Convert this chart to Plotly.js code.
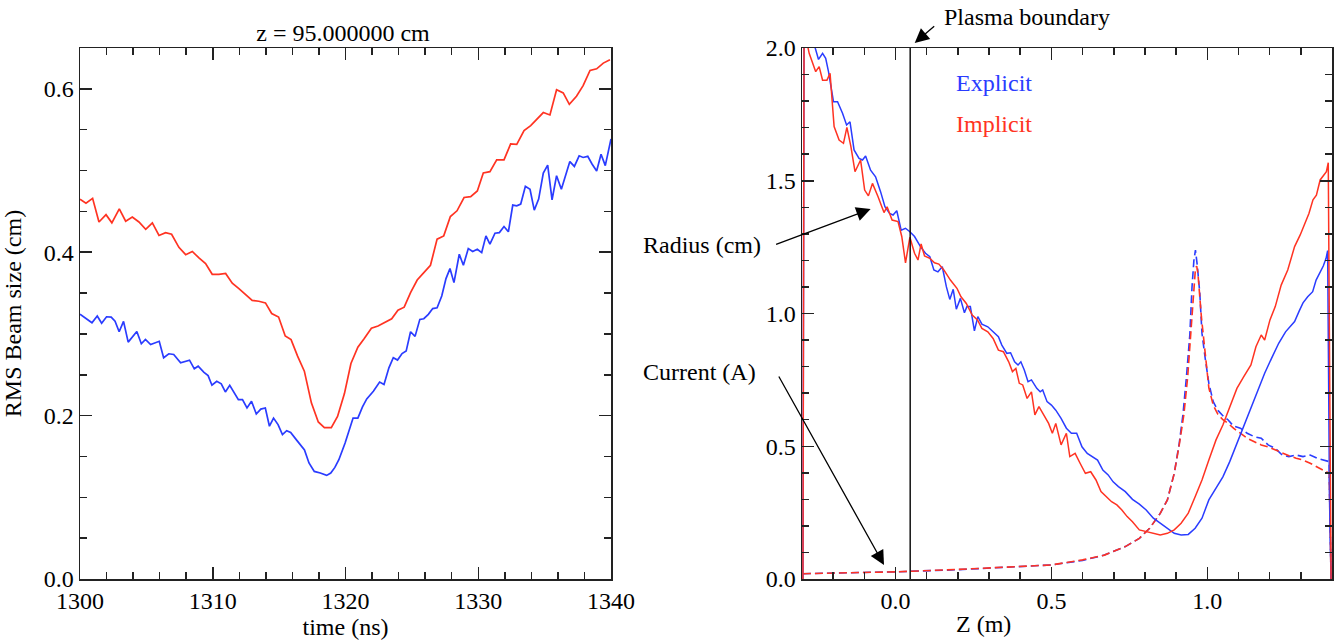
<!DOCTYPE html>
<html>
<head>
<meta charset="utf-8">
<script src="https://cdn.plot.ly/plotly-3.0.1.min.js"></script>
<style>html,body{margin:0;padding:0;background:#fff;}#chart{width:1338px;height:643px;}</style>
</head>
<body>
<div id="chart"></div>
<script>
// ---------- Left panel: RMS beam size vs time at z = 95 cm ----------
const timeImplicit = [1300.0,1300.45,1300.95,1301.43,1301.96,1302.4,1302.96,1303.44,1303.94,1304.44,1304.95,1305.45,1305.95,1306.45,1306.9,1307.45,1307.96,1308.46,1308.96,1309.46,1309.96,1310.46,1310.97,1311.47,1311.97,1312.47,1312.97,1313.47,1313.97,1314.44,1314.96,1315.46,1315.9,1316.39,1316.9,1317.43,1317.95,1318.41,1318.93,1319.4,1319.92,1320.41,1320.93,1321.4,1321.95,1322.45,1322.97,1323.48,1323.95,1324.42,1324.9,1325.4,1325.9,1326.4,1326.9,1327.4,1327.9,1328.4,1328.93,1329.43,1329.93,1330.38,1330.88,1331.39,1331.94,1332.44,1332.9,1333.45,1333.95,1334.45,1334.9,1335.4,1335.9,1336.4,1336.86,1337.4,1337.9,1338.42,1338.92,1339.42,1339.92];
const rmsImplicit = [0.465,0.460,0.466,0.437,0.446,0.436,0.453,0.438,0.443,0.437,0.428,0.436,0.4205,0.424,0.422,0.406,0.397,0.401,0.393,0.386,0.373,0.373,0.374,0.362,0.3555,0.3485,0.341,0.340,0.338,0.325,0.3206,0.2975,0.293,0.2728,0.2544,0.2156,0.1922,0.1853,0.1853,0.199,0.227,0.2638,0.2838,0.294,0.307,0.3096,0.3145,0.3186,0.329,0.3327,0.3505,0.366,0.375,0.384,0.416,0.420,0.4437,0.4507,0.467,0.468,0.475,0.497,0.4986,0.513,0.513,0.5325,0.532,0.549,0.555,0.564,0.571,0.568,0.599,0.595,0.581,0.591,0.604,0.6225,0.6245,0.6315,0.6356];

const timeExplicit = [1300.0,1300.5,1300.9,1301.3,1301.63,1302.0,1302.35,1302.64,1302.95,1303.28,1303.63,1304.28,1304.62,1304.93,1305.32,1305.97,1306.3,1306.69,1307.06,1307.58,1308.25,1308.61,1308.9,1309.34,1309.65,1309.94,1310.3,1310.64,1310.95,1311.28,1311.62,1311.93,1312.24,1312.58,1312.92,1313.28,1313.62,1313.96,1314.27,1314.58,1314.92,1315.25,1315.57,1315.87,1316.29,1316.91,1317.25,1317.65,1318.1,1318.58,1318.89,1319.2,1319.5,1319.97,1320.57,1320.93,1321.28,1321.6,1322.1,1322.57,1322.9,1323.27,1323.6,1323.92,1324.26,1324.57,1324.9,1325.24,1325.6,1325.9,1326.24,1326.57,1326.9,1327.25,1327.57,1327.87,1328.17,1328.57,1328.88,1329.25,1329.58,1329.93,1330.26,1330.58,1330.88,1331.26,1331.59,1331.94,1332.27,1332.6,1332.9,1333.2,1333.55,1333.9,1334.22,1334.55,1334.9,1335.23,1335.56,1335.9,1336.26,1336.58,1336.9,1337.24,1337.6,1337.9,1338.25,1338.57,1338.92,1339.25,1339.57,1340.0];
const rmsExplicit = [0.324,0.318,0.3137,0.322,0.313,0.321,0.3206,0.3157,0.3027,0.3153,0.290,0.303,0.288,0.2933,0.287,0.291,0.2708,0.2757,0.2748,0.2646,0.2679,0.2573,0.2605,0.253,0.249,0.2372,0.242,0.239,0.229,0.2372,0.228,0.2196,0.2196,0.2094,0.2176,0.202,0.208,0.2094,0.187,0.197,0.189,0.1767,0.1816,0.1795,0.1706,0.158,0.142,0.1317,0.1297,0.1268,0.1297,0.1366,0.146,0.1665,0.197,0.197,0.2107,0.2205,0.2298,0.241,0.238,0.2585,0.2708,0.268,0.276,0.279,0.3027,0.297,0.3178,0.3186,0.324,0.331,0.332,0.3464,0.3677,0.380,0.3628,0.3975,0.384,0.4045,0.401,0.4037,0.3996,0.420,0.4098,0.4233,0.424,0.4315,0.425,0.4577,0.4568,0.459,0.4806,0.477,0.4515,0.465,0.497,0.5067,0.4642,0.4937,0.477,0.4945,0.511,0.505,0.518,0.516,0.5174,0.508,0.4994,0.520,0.506,0.5387];

// ---------- Right panel: radius and current vs Z ----------
const zRadExplicit = [-0.297,-0.293,-0.265,-0.247,-0.234,-0.224,-0.215,-0.199,-0.186,-0.17,-0.157,-0.146,-0.133,-0.117,-0.106,-0.096,-0.08,-0.064,-0.048,-0.034,-0.019,-0.008,0.004,0.018,0.032,0.046,0.061,0.08,0.096,0.11,0.123,0.136,0.15,0.163,0.174,0.185,0.195,0.208,0.221,0.229,0.24,0.253,0.264,0.277,0.296,0.313,0.33,0.341,0.357,0.369,0.382,0.393,0.402,0.413,0.425,0.436,0.453,0.464,0.472,0.486,0.5,0.514,0.531,0.548,0.564,0.581,0.598,0.615,0.631,0.648,0.665,0.682,0.698,0.715,0.737,0.76,0.782,0.804,0.827,0.849,0.872,0.894,0.916,0.939,0.961,0.983,1.005,1.028,1.05,1.072,1.095,1.117,1.14,1.162,1.184,1.206,1.229,1.251,1.28,1.295,1.307,1.322,1.338,1.349,1.362,1.372,1.381,1.386,1.392,1.397];
const radExplicit = [0,2.3,2.03,1.957,1.98,1.961,1.911,1.798,1.798,1.754,1.71,1.722,1.616,1.584,1.578,1.593,1.54,1.515,1.459,1.402,1.377,1.371,1.387,1.314,1.321,1.308,1.29,1.252,1.227,1.214,1.164,1.157,1.176,1.101,1.053,1.091,1.016,1.057,1.003,1.026,1.026,0.935,0.988,0.96,0.95,0.931,0.913,0.881,0.85,0.852,0.818,0.806,0.818,0.787,0.743,0.75,0.718,0.705,0.712,0.668,0.655,0.636,0.605,0.568,0.549,0.549,0.498,0.473,0.461,0.448,0.41,0.392,0.366,0.348,0.329,0.3,0.282,0.26,0.229,0.21,0.191,0.172,0.166,0.168,0.191,0.229,0.298,0.342,0.385,0.442,0.511,0.58,0.643,0.712,0.775,0.831,0.888,0.931,0.97,1.01,1.04,1.063,1.082,1.126,1.157,1.179,1.208,1.237,0.3,0];

const zRadImplicit = [-0.297,-0.293,-0.284,-0.277,-0.256,-0.245,-0.234,-0.22,-0.21,-0.197,-0.181,-0.167,-0.156,-0.143,-0.13,-0.112,-0.099,-0.087,-0.074,-0.056,-0.037,-0.027,-0.011,0.008,0.02,0.032,0.046,0.061,0.072,0.082,0.093,0.11,0.125,0.139,0.155,0.176,0.197,0.21,0.227,0.246,0.263,0.277,0.296,0.313,0.33,0.346,0.363,0.375,0.386,0.397,0.408,0.422,0.436,0.447,0.46,0.478,0.491,0.503,0.514,0.531,0.548,0.559,0.576,0.592,0.609,0.626,0.643,0.659,0.676,0.693,0.71,0.726,0.743,0.76,0.782,0.804,0.827,0.849,0.872,0.894,0.916,0.939,0.961,0.983,1.005,1.028,1.05,1.072,1.095,1.117,1.14,1.156,1.173,1.184,1.201,1.218,1.237,1.258,1.28,1.298,1.312,1.326,1.339,1.35,1.362,1.373,1.382,1.388,1.393,1.397];
const radImplicit = [0,2.3,2.02,1.98,1.911,1.93,1.879,1.879,1.905,1.704,1.653,1.641,1.701,1.628,1.534,1.578,1.465,1.443,1.49,1.44,1.38,1.402,1.352,1.346,1.29,1.191,1.287,1.227,1.2015,1.262,1.217,1.208,1.191,1.186,1.164,1.126,1.095,1.063,1.038,0.994,0.976,0.944,0.931,0.906,0.862,0.856,0.818,0.781,0.793,0.737,0.731,0.68,0.705,0.618,0.649,0.611,0.586,0.549,0.586,0.505,0.549,0.461,0.473,0.436,0.398,0.404,0.373,0.329,0.31,0.291,0.279,0.26,0.235,0.216,0.185,0.178,0.172,0.166,0.172,0.185,0.21,0.248,0.31,0.373,0.448,0.524,0.58,0.649,0.718,0.762,0.806,0.875,0.919,0.9,0.976,1.026,1.107,1.164,1.252,1.296,1.34,1.377,1.428,1.446,1.503,1.522,1.534,1.568,0.4,0];

const zCurExplicit = [-0.297,0.0,0.2,0.4,0.5,0.6,0.67,0.737,0.782,0.815,0.849,0.872,0.894,0.91,0.922,0.933,0.944,0.951,0.957,0.962,0.968,0.976,0.983,0.994,1.005,1.019,1.034,1.05,1.067,1.084,1.106,1.128,1.151,1.173,1.195,1.218,1.24,1.262,1.285,1.307,1.33,1.352,1.374,1.391,1.397];
const curExplicit = [0.02,0.027,0.035,0.046,0.053,0.07,0.09,0.122,0.153,0.191,0.247,0.298,0.398,0.511,0.62,0.76,0.92,1.1,1.2,1.239,1.18,1.076,0.925,0.825,0.737,0.668,0.635,0.615,0.599,0.576,0.568,0.549,0.536,0.53,0.505,0.492,0.467,0.461,0.467,0.461,0.467,0.455,0.448,0.442,0];

const zCurImplicit = [-0.297,0.0,0.2,0.4,0.5,0.6,0.67,0.737,0.782,0.815,0.849,0.872,0.894,0.91,0.925,0.937,0.949,0.955,0.962,0.966,0.97,0.981,0.989,0.996,1.005,1.019,1.034,1.05,1.067,1.084,1.106,1.128,1.151,1.173,1.195,1.218,1.24,1.262,1.285,1.307,1.33,1.352,1.374,1.391,1.397];
const curImplicit = [0.02,0.027,0.036,0.046,0.053,0.072,0.09,0.122,0.153,0.191,0.247,0.298,0.398,0.505,0.62,0.76,0.95,1.076,1.17,1.178,1.151,0.988,0.9,0.8,0.72,0.655,0.62,0.6,0.586,0.568,0.549,0.53,0.517,0.505,0.498,0.486,0.473,0.464,0.455,0.448,0.436,0.423,0.41,0.398,0];

const plasmaBoundaryZ = 0.047;
const boundaryY = [0, 2.0];

const leftYTicks = [0.0, 0.2, 0.4, 0.6];
const leftXTicks = [1300, 1310, 1320, 1330, 1340];
const rightYTicks = [0.0, 0.5, 1.0, 1.5, 2.0];
const rightXTicks = [0.0, 0.5, 1.0];

// ---------- styling ----------
const RED = '#ff3322';
const BLUE = '#2a3cff';
const FONT = '"Liberation Serif", "Times New Roman", serif';
const FS = 24;

const traces = [
  {x: timeImplicit, y: rmsImplicit, xaxis: 'x', yaxis: 'y', mode: 'lines', name: 'Implicit', line: {color: RED, width: 1.7}},
  {x: timeExplicit, y: rmsExplicit, xaxis: 'x', yaxis: 'y', mode: 'lines', name: 'Explicit', line: {color: BLUE, width: 1.7}},
  {x: zCurExplicit, y: curExplicit, xaxis: 'x2', yaxis: 'y2', mode: 'lines', name: 'Explicit current', line: {color: BLUE, width: 1.6, dash: '8px,4px'}},
  {x: zCurImplicit, y: curImplicit, xaxis: 'x2', yaxis: 'y2', mode: 'lines', name: 'Implicit current', line: {color: RED, width: 1.6, dash: '8px,4px'}},
  {x: zRadExplicit, y: radExplicit, xaxis: 'x2', yaxis: 'y2', mode: 'lines', name: 'Explicit radius', line: {color: BLUE, width: 1.5}},
  {x: zRadImplicit, y: radImplicit, xaxis: 'x2', yaxis: 'y2', mode: 'lines', name: 'Implicit radius', line: {color: RED, width: 1.5}},
  {x: [plasmaBoundaryZ, plasmaBoundaryZ], y: boundaryY, xaxis: 'x2', yaxis: 'y2', mode: 'lines', name: 'Plasma boundary', line: {color: '#000', width: 1.4}}
];

function axisBase() {
  return {
    showline: true, linecolor: '#222', linewidth: 1.5, mirror: 'allticks',
    ticks: 'inside', ticklen: 12, tickwidth: 1.5, tickcolor: '#222',
    showgrid: false, zeroline: false,
    tickfont: {family: FONT, size: FS, color: '#000'}
  };
}
const P = (px) => px / 1338;
const Q = (py) => 1 - py / 643;

const layout = {
  width: 1338, height: 643,
  margin: {l: 0, r: 0, t: 0, b: 0},
  paper_bgcolor: '#fff', plot_bgcolor: '#fff',
  showlegend: false,
  font: {family: FONT, size: FS, color: '#000'},
  title: {text: 'z = 95.000000 cm', x: P(343), xanchor: 'center', y: Q(33), yanchor: 'middle', font: {family: FONT, size: FS, color: '#000'}},
  xaxis: Object.assign(axisBase(), {
    domain: [P(80), P(611)], range: [1300, 1340], tickvals: leftXTicks,
    minor: {dtick: 2, tick0: 1300, ticks: 'inside', ticklen: 7, tickwidth: 1.5, tickcolor: '#222'},
    anchor: 'y',
    title: {text: 'time (ns)', font: {family: FONT, size: FS}, standoff: 4}
  }),
  yaxis: Object.assign(axisBase(), {
    domain: [Q(579), Q(48)], range: [0, 0.65], tickvals: leftYTicks, tickformat: '.1f',
    minor: {dtick: 0.05, tick0: 0, ticks: 'inside', ticklen: 7, tickwidth: 1.5, tickcolor: '#222'},
    anchor: 'x',
    title: {text: 'RMS Beam size (cm)', font: {family: FONT, size: FS}, standoff: 15}
  }),
  xaxis2: Object.assign(axisBase(), {
    domain: [P(802), P(1332)], range: [-0.3, 1.4], tickvals: rightXTicks, tickformat: '.1f',
    minor: {dtick: 0.1, tick0: 0, ticks: 'inside', ticklen: 7, tickwidth: 1.5, tickcolor: '#222'},
    anchor: 'y2'
  }),
  yaxis2: Object.assign(axisBase(), {
    domain: [Q(579), Q(48)], range: [0, 2.0], tickvals: rightYTicks, tickformat: '.1f',
    minor: {dtick: 0.1, tick0: 0, ticks: 'inside', ticklen: 7, tickwidth: 1.5, tickcolor: '#222'},
    anchor: 'x2'
  }),
  annotations: [
    {xref: 'paper', yref: 'paper', x: P(983), y: Q(624), xanchor: 'center', yanchor: 'middle', text: 'Z (m)', showarrow: false, font: {family: FONT, size: FS, color: '#000'}},
    {xref: 'paper', yref: 'paper', x: P(942), y: Q(17), xanchor: 'left', yanchor: 'middle', text: 'Plasma boundary', showarrow: false, font: {family: FONT, size: FS, color: '#000'}},
    {xref: 'paper', yref: 'paper', x: P(954), y: Q(83), xanchor: 'left', yanchor: 'middle', text: 'Explicit', showarrow: false, font: {family: FONT, size: FS, color: BLUE}},
    {xref: 'paper', yref: 'paper', x: P(954), y: Q(124), xanchor: 'left', yanchor: 'middle', text: 'Implicit', showarrow: false, font: {family: FONT, size: FS, color: RED}},
    {xref: 'paper', yref: 'paper', x: P(641), y: Q(245), xanchor: 'left', yanchor: 'middle', text: 'Radius (cm)', showarrow: false, font: {family: FONT, size: FS, color: '#000'}},
    {xref: 'paper', yref: 'paper', x: P(641), y: Q(372), xanchor: 'left', yanchor: 'middle', text: 'Current (A)', showarrow: false, font: {family: FONT, size: FS, color: '#000'}},
    {xref: 'paper', yref: 'paper', x: P(914.7), y: Q(43), text: '', showarrow: true, arrowhead: 2, arrowsize: 2.2, arrowwidth: 1.3, arrowcolor: '#000', ax: 21, ay: -18},
    {xref: 'paper', yref: 'paper', x: P(870.6), y: Q(209), text: '', showarrow: true, arrowhead: 2, arrowsize: 2.2, arrowwidth: 1.3, arrowcolor: '#000', ax: -96, ay: 36},
    {xref: 'paper', yref: 'paper', x: P(884), y: Q(565), text: '', showarrow: true, arrowhead: 2, arrowsize: 2.2, arrowwidth: 1.3, arrowcolor: '#000', ax: -106, ay: -190}
  ]
};

Plotly.newPlot('chart', traces, layout, {displayModeBar: false, staticPlot: true});
</script>
</body>
</html>
